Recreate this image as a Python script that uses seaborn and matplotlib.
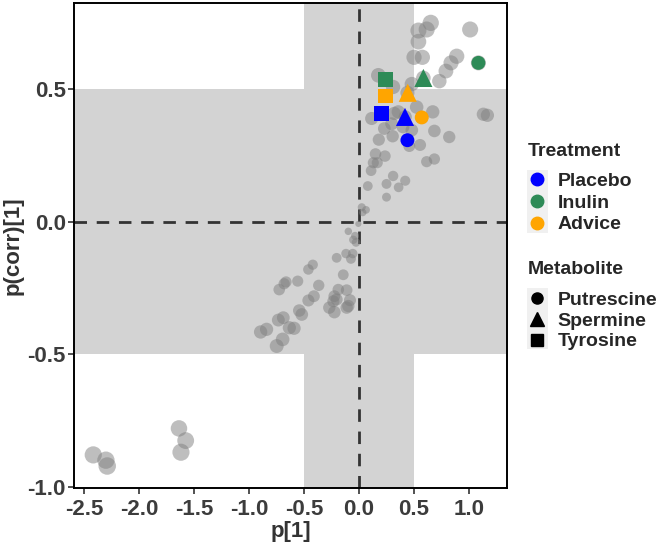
import numpy as np
import pandas as pd
import seaborn as sns
import matplotlib.pyplot as plt
from matplotlib.lines import Line2D
from matplotlib.patches import Rectangle

# loadings of all metabolites: p[1] and p(corr)[1]
p1 = [0.652, 0.615, 0.54, 0.54, 1.01, 0.50, 0.576, 0.888, 0.836, 0.79,
      0.73, 0.48, 0.176, 1.085, 0.585, 0.243, 0.31, 0.243, 0.44, 0.524,
      0.67, 1.13, 1.167, 0.115, 0.32, 0.357, 0.297, 0.23, 0.40, 0.48,
      0.685, 0.82, 0.306, 0.18, 0.457, 0.555, 0.57, 0.42, 0.206, 0.44,
      0.15, 0.236, 0.13, 0.166, 0.11, 0.615, 0.685, 0.31, 0.42, 0.25,
      0.36, 0.08, 0.25, 0.025, 0.064, 0.034, -0.006,
      -0.097, -0.036, -0.052, -0.027, -0.203, -0.118, -0.057, -0.073, -0.42,
      -0.46, -0.143, -0.663, -0.68, -0.725, -0.557, -0.366, -0.188, -0.112, -0.224,
      -0.203, -0.233, -0.082, -0.097, -0.112, -0.41, -0.46, -0.27, -0.224, -0.543,
      -0.52, -0.688, -0.733, -0.633, -0.59, -0.84, -0.894, -0.694, -0.748,
      -2.415, -2.30, -2.288, -1.636, -1.575, -1.618]
pcorr = [0.751, 0.726, 0.722, 0.68, 0.726, 0.621, 0.621, 0.625, 0.60, 0.569,
         0.531, 0.52, 0.553, 0.60, 0.543, 0.536, 0.509, 0.475, 0.487, 0.433,
         0.415, 0.406, 0.402, 0.39, 0.409, 0.415, 0.37, 0.352, 0.358, 0.346,
         0.343, 0.32, 0.323, 0.31, 0.286, 0.29, 0.394, 0.396, 0.409, 0.308,
         0.256, 0.248, 0.223, 0.223, 0.193, 0.227, 0.237, 0.173, 0.155, 0.143,
         0.13, 0.135, 0.093, 0.055, 0.045, 0.035, -0.008,
         -0.036, -0.053, -0.068, -0.078, -0.136, -0.12, -0.12, -0.14, -0.162,
         -0.18, -0.2, -0.227, -0.234, -0.256, -0.224, -0.24, -0.256, -0.258, -0.281,
         -0.293, -0.30, -0.296, -0.318, -0.324, -0.281, -0.297, -0.324, -0.341, -0.335,
         -0.35, -0.362, -0.371, -0.40, -0.402, -0.406, -0.416, -0.444, -0.469,
         -0.88, -0.90, -0.922, -0.78, -0.826, -0.87]

# highlighted metabolites per treatment
treatments = ["Placebo", "Inulin", "Advice"]
metabolites = ["Putrescine", "Spermine", "Tyrosine"]
hl_treatment = ["Placebo"] * 3 + ["Inulin"] * 3 + ["Advice"] * 3
hl_metabolite = metabolites * 3
hl_p1 = [0.44, 0.418, 0.206, 1.085, 0.585, 0.243, 0.57, 0.443, 0.243]
hl_pcorr = [0.308, 0.396, 0.409, 0.60, 0.543, 0.536, 0.394, 0.487, 0.475]

colors = {"Placebo": "#0000FF", "Inulin": "#2E8B57", "Advice": "#FFA500"}
markers = {"Putrescine": "o", "Spermine": "^", "Tyrosine": "s"}

df = pd.DataFrame({"p1": p1, "pcorr": pcorr})
# point area grows with |p(corr)|
df["w"] = ((5 + 13 * np.sqrt(df["pcorr"].abs())) / 1.389) ** 2
hl = pd.DataFrame({"p1": hl_p1, "pcorr": hl_pcorr,
                   "Treatment": hl_treatment, "Metabolite": hl_metabolite})

sns.set_style("white")
plt.rcParams["font.family"] = ["Liberation Sans", "DejaVu Sans"]
plt.rcParams["font.weight"] = "bold"

fig = plt.figure(figsize=(6.69, 5.45), dpi=100)
ax = fig.add_axes([74 / 669, 1 - 488 / 545, 433 / 669, 485 / 545])

ax.axhspan(-0.5, 0.5, color="#D3D3D3", lw=0, zorder=0)
ax.axvspan(-0.5, 0.5, color="#D3D3D3", lw=0, zorder=0)
ax.axhline(0, color="#333333", lw=2, dashes=(4.5, 3.5), zorder=1)
ax.axvline(0, color="#333333", lw=2, dashes=(4.5, 3.5), zorder=1)

wmin, wmax = df["w"].min(), df["w"].max()
sns.scatterplot(data=df, x="p1", y="pcorr", size="w", sizes=(wmin, wmax),
                size_norm=(wmin, wmax), color="#7F7F7F", alpha=0.5,
                linewidth=0, legend=False, ax=ax, zorder=2)
sns.scatterplot(data=hl, x="p1", y="pcorr", hue="Treatment", style="Metabolite",
                size="Metabolite", palette=colors, markers=markers,
                sizes={"Putrescine": 100, "Spermine": 170, "Tyrosine": 115},
                linewidth=0, legend=False, ax=ax, zorder=3)

ax.set_xlim(-2.59, 1.345)
ax.set_ylim(-1.005, 0.826)
ax.set_xticks([-2.5, -2.0, -1.5, -1.0, -0.5, 0.0, 0.5, 1.0])
ax.set_yticks([-1.0, -0.5, 0.0, 0.5])
ax.xaxis.set_major_formatter(plt.FormatStrFormatter("%.1f"))
ax.yaxis.set_major_formatter(plt.FormatStrFormatter("%.1f"))
ax.tick_params(axis="both", length=4, width=1.2, color="#333333",
               labelsize=16, labelcolor="#3C3C3C", bottom=True, left=True)
ax.tick_params(axis="x", pad=4)
ax.tick_params(axis="y", pad=2)
for lab in ax.get_xticklabels() + ax.get_yticklabels():
    lab.set_fontweight("bold")
for sp in ax.spines.values():
    sp.set_color("black")
    sp.set_linewidth(1.4)

ax.set_xlabel("p[1]", fontsize=16, fontweight="bold", color="#333333", labelpad=1)
ax.set_ylabel("p(corr)[1]", fontsize=16, fontweight="bold", color="#333333", labelpad=3)

# legends
prop = {"family": "Liberation Sans", "weight": "bold", "size": 14}
fig.text(527.5 / 669, 1 - 151 / 545, "Treatment", ha="left", va="center", fontsize=14, fontweight="bold")
fig.text(527.5 / 669, 1 - 270 / 545, "Metabolite", ha="left", va="center", fontsize=14, fontweight="bold")

fig.patches.append(Rectangle((527 / 669, 1 - 233 / 545), 21 / 669, 63 / 545,
                             transform=fig.transFigure, color="#F0F0F0", lw=0, zorder=0))
fig.patches.append(Rectangle((527 / 669, 1 - 349 / 545), 21 / 669, 61 / 545,
                             transform=fig.transFigure, color="#F0F0F0", lw=0, zorder=0))

h_treat = [Line2D([], [], marker="o", color=colors[t], ls="", markersize=9) for t in treatments]
h_met = [Line2D([], [], marker=markers[m], color="black", ls="",
                markersize={"Putrescine": 8, "Spermine": 10, "Tyrosine": 8}[m]) for m in metabolites]

leg1 = fig.legend(h_treat, treatments, loc="upper left", bbox_to_anchor=(527.5 / 669, 1 - 172 / 545),
                  frameon=False, prop=prop, borderpad=0, handlelength=1.0,
                  handletextpad=0.55, labelspacing=0.22, borderaxespad=0)
leg2 = fig.legend(h_met, metabolites, loc="upper left", bbox_to_anchor=(527.5 / 669, 1 - 291 / 545),
                  frameon=False, prop=prop, borderpad=0, handlelength=1.0,
                  handletextpad=0.55, labelspacing=0.17, borderaxespad=0)

fig.savefig("out.png", dpi=100)
